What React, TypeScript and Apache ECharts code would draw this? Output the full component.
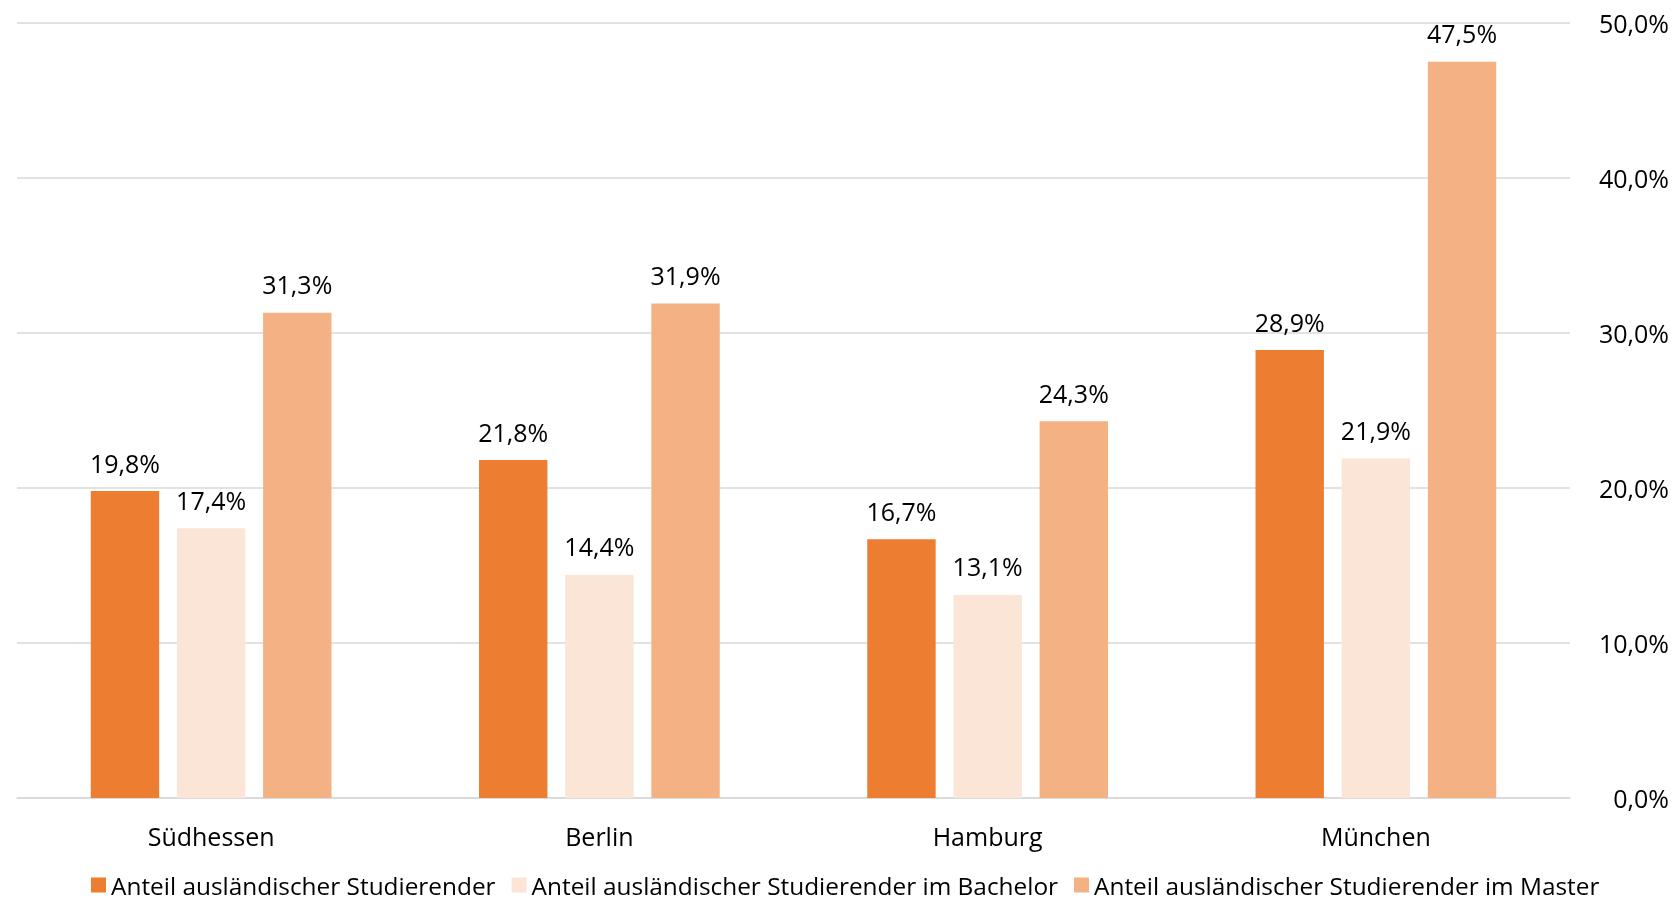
import React, { useEffect, useRef } from "react";
import * as echarts from "echarts";

const categories = ["Südhessen", "Berlin", "Hamburg", "München"];
const seriesNames = [
  "Anteil ausländischer Studierender",
  "Anteil ausländischer Studierender im Bachelor",
  "Anteil ausländischer Studierender im Master",
];
const gesamt = [19.8, 21.8, 16.7, 28.9];
const bachelor = [17.4, 14.4, 13.1, 21.9];
const master = [31.3, 31.9, 24.3, 47.5];
const colors = ["#ED7D31", "#FBE5D6", "#F4B183"];

const FONT = "Open Sans";
const fmt = (v: number) => v.toFixed(1).replace(".", ",") + "%";

export default function App() {
  const ref = useRef<HTMLDivElement>(null);
  useEffect(() => {
    const chart = echarts.init(ref.current!, null, { renderer: "svg" });
    const data = [gesamt, bachelor, master];
    chart.setOption({
      animation: false,
      textStyle: { fontFamily: FONT },
      grid: { left: 17, right: 107, top: 23, bottom: 108, containLabel: false },
      legend: {
        left: 86,
        top: 867,
        itemWidth: 15,
        itemHeight: 15,
        itemGap: 16,
        icon: "rect",
        textStyle: { fontFamily: FONT, fontSize: 24.4, lineHeight: 26, color: "#000" },
        data: seriesNames,
      },
      xAxis: {
        type: "category",
        data: categories,
        axisTick: { show: false },
        axisLine: { lineStyle: { color: "#D9D9D9", width: 1.5 } },
        axisLabel: { fontFamily: FONT, fontSize: 25, color: "#000", margin: 25 },
      },
      yAxis: {
        type: "value",
        position: "right",
        min: 0,
        max: 50,
        interval: 10,
        splitLine: { lineStyle: { color: "#D9D9D9", width: 1.5 } },
        axisLine: { show: false },
        axisTick: { show: false },
        axisLabel: {
          fontFamily: FONT,
          fontSize: 25,
          color: "#000",
          align: "right",
          margin: 99,
          formatter: (v: number) => fmt(v),
        },
      },
      series: data.map((d, i) => ({
        name: seriesNames[i],
        type: "bar",
        data: d,
        barGap: "26%",
        barCategoryGap: "38%",
        itemStyle: { color: colors[i] },
        label: {
          show: true,
          position: "top",
          distance: 16,
          fontFamily: FONT,
          fontSize: 25,
          color: "#000",
          formatter: (p: any) => fmt(p.value),
        },
      })),
    });
    return () => chart.dispose();
  }, []);
  return (
    <div
      ref={ref}
      style={{ position: "fixed", left: 0, top: 0, width: 1677, height: 906 }}
    />
  );
}
